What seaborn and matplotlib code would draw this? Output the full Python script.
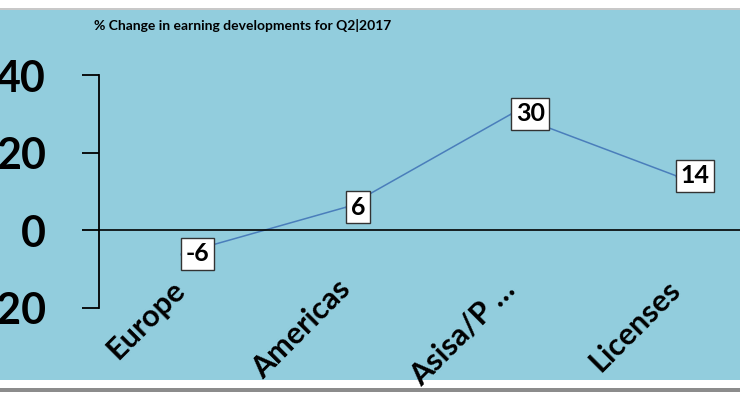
import numpy as np
import pandas as pd
import matplotlib
matplotlib.use("Agg")
import matplotlib.pyplot as plt
import seaborn as sns
from matplotlib.patches import Rectangle
from matplotlib.transforms import ScaledTranslation

# data
regions = ["Europe", "Americas", "Asisa/P …", "Licenses"]
change = [-6, 6, 30, 14]
y_ticks = [-20, 0, 20, 40]

df = pd.DataFrame({"pos": np.arange(len(regions)) + 0.5, "change": change})

sns.set_theme(style="white")
plt.rcParams["font.family"] = ["Lato", "DejaVu Sans"]

bg = "#92cddd"
fig = plt.figure(figsize=(7.4, 3.93), dpi=100, facecolor="white")

# background panel and frame lines
fig.patches.append(Rectangle((0, 13 / 393), 1, 371 / 393, transform=fig.transFigure,
                             facecolor=bg, edgecolor="none", zorder=-5))
fig.patches.append(Rectangle((0, 383 / 393), 1, 2 / 393, transform=fig.transFigure,
                             facecolor="#c8c8c8", edgecolor="none", zorder=-5))
fig.patches.append(Rectangle((0, 1 / 393), 1, 4 / 393, transform=fig.transFigure,
                             facecolor="#8c8c8c", edgecolor="none", zorder=-5))

ax = fig.add_axes([99 / 740, 85 / 393, 660 / 740, 233 / 393])
ax.set_facecolor("none")

# spine position first (it resets the tick setup)
ax.spines["bottom"].set_position(("data", 0))
ax.spines["bottom"].set_color("black")
ax.spines["bottom"].set_linewidth(1.2)
ax.spines["left"].set_color("black")
ax.spines["left"].set_linewidth(1.3)
ax.spines["top"].set_visible(False)
ax.spines["right"].set_visible(False)

sns.lineplot(data=df, x="pos", y="change", ax=ax, color="#4a7ebb", linewidth=1.1,
             marker="o", markersize=3, markeredgewidth=0)

for x, v in zip(df["pos"], df["change"]):
    ax.annotate(str(v), (x, v), xytext=(3, 0), textcoords="offset points",
                ha="left", va="center", fontsize=18, fontweight="bold", color="black",
                bbox=dict(boxstyle="square,pad=0.18", facecolor="white",
                          edgecolor="#333333", linewidth=1))

ax.set_xlim(0, len(regions))
ax.set_ylim(-20, 40)
ax.set_yticks(y_ticks)
ax.set_yticklabels([str(t) for t in y_ticks], fontsize=31, fontweight="bold",
                   color="black")
ax.tick_params(axis="y", direction="out", length=12, width=1.3, color="black",
               pad=26, left=True)

ax.set_xticks(df["pos"])
ax.set_xticklabels(regions, rotation=45, ha="right", va="top",
                   fontsize=22, fontweight="bold", color="black")
ax.tick_params(axis="x", length=0, pad=32, bottom=False)
shift = ScaledTranslation(9 / 100, 0, fig.dpi_scale_trans)
for lbl in ax.get_xticklabels():
    lbl.set_transform(lbl.get_transform() + shift)

ax.set_xlabel("")
ax.set_ylabel("")

fig.text(243 / 740, 1 - 26 / 393, "% Change in earning developments for Q2|2017",
         ha="center", va="center", fontsize=10, fontweight="bold", color="black")

fig.savefig("out.png", dpi=100, facecolor="white")
